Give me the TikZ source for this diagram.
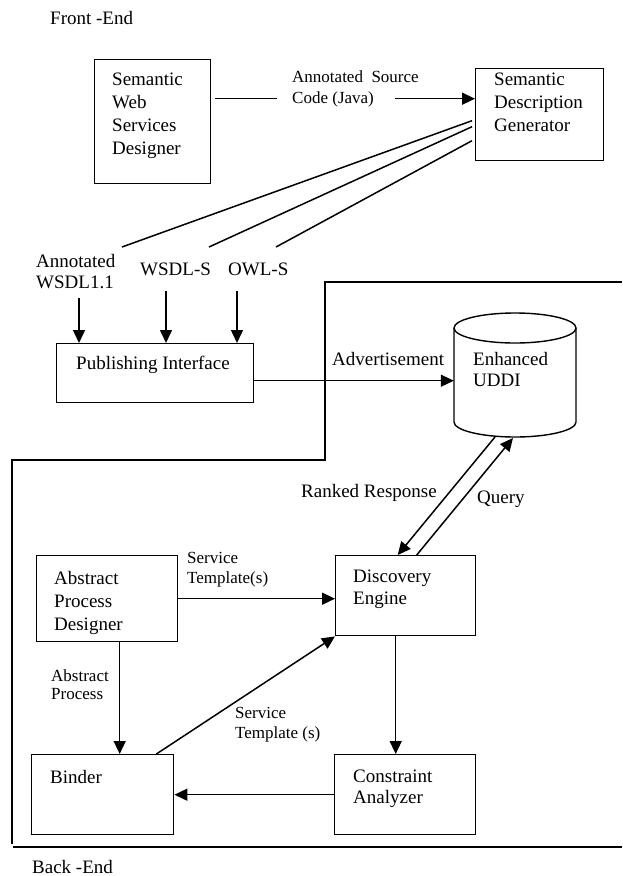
\documentclass[tikz,border=0pt]{standalone}
\usepackage{fontspec}
\setmainfont{Liberation Serif}
\usetikzlibrary{arrows.meta,calc}
\begin{document}
\begin{tikzpicture}[x=1pt,y=-1pt,
  box/.style={draw,line width=1.4pt,anchor=north west,inner sep=0pt},
  txt/.style={anchor=north west,inner sep=0pt,align=left,font=\fontsize{19}{23}\selectfont},
  small/.style={anchor=north west,inner sep=0pt,align=left,font=\fontsize{17}{20}\selectfont},
  conn/.style={line width=1.5pt},
  arr/.style={line width=1.5pt,-{Triangle[length=13pt,width=12pt]}}]
\useasboundingbox (0,0) rectangle (622,876);

% region border
\draw[line width=1.5pt] (622,282) -- (325,282) -- (325,460) -- (12,460) -- (12,844);
\draw[line width=1.5pt] (13,847) -- (622,847);

% boxes
\node[box,minimum width=116pt,minimum height=124pt] (swsd) at (94,59) {};
\node[box,minimum width=128pt,minimum height=92pt] (sdg) at (475,68) {};
\node[box,minimum width=197pt,minimum height=59pt] (pi) at (56,343) {};
\node[box,minimum width=140pt,minimum height=80pt] (de) at (335,555) {};
\node[box,minimum width=141pt,minimum height=86pt] (apd) at (36,555) {};
\node[box,minimum width=142pt,minimum height=80pt] (binder) at (31,754) {};
\node[box,minimum width=141pt,minimum height=80pt] (ca) at (334,754) {};

% cylinder
\node[inner sep=0pt,minimum width=122pt,minimum height=124pt] (uddi) at (515,375) {};
\draw[line width=1.4pt] (454,328) -- (454,422) arc[start angle=180,end angle=0,x radius=61,y radius=15] -- (576,328);
\draw[line width=1.4pt] (515,328) ellipse [x radius=61, y radius=15];

% texts
\node[txt] (front) at (50,11) {Front -End};
\node[txt] (swsdt) at (112,73) {Semantic\\Web\\Services\\Designer};
\node[txt] (sdgt) at (494,73) {Semantic\\Description\\Generator};
\node[small,font=\fontsize{17}{21}\selectfont] (asrc) at (292,71) {Annotated\ \ Source\\Code (Java)};
\node[txt,font=\fontsize{19}{21}\selectfont] (awsdl) at (36,254) {Annotated\\WSDL1.1};
\node[txt] (wsdls) at (140,263) {WSDL-S};
\node[txt] (owls) at (228,263) {OWL-S};
\node[txt] (pit) at (76,356) {Publishing Interface};
\node[txt,font=\fontsize{19}{21}\selectfont] (uddit) at (473,352) {Enhanced\\UDDI};
\node[txt] (adv) at (332,352) {Advertisement};
\node[txt,anchor=north east] (ranked) at (437,484) {Ranked Response};
\node[txt] (query) at (477,491) {Query};
\node[small] (st1) at (187,552) {Service\\Template(s)};
\node[txt,font=\fontsize{19}{22}\selectfont] (det) at (353,570) {Discovery\\Engine};
\node[txt] (apdt) at (54,571) {Abstract\\Process\\Designer};
\node[small,font=\fontsize{17}{18}\selectfont] (apl) at (51,669) {Abstract\\Process};
\node[small] (st2) at (235,707) {Service\\Template (s)};
\node[txt] (bindert) at (50,770) {Binder};
\node[txt,font=\fontsize{19}{21}\selectfont] (cat) at (353,770) {Constraint\\Analyzer};
\node[txt] (back) at (32,860) {Back -End};

% connectors top
\draw[conn] ([xshift=4pt,yshift=23pt]swsd.east) -- ++(62,0);
\draw[arr] ([xshift=-80pt,yshift=16pt]sdg.west) -- ([yshift=16pt]sdg.west);

\coordinate (l1) at (122,247);
\coordinate (l2) at (209,247);
\coordinate (l3) at (276,247);
\draw[conn] ([xshift=-3pt,yshift=-6pt]sdg.west) -- (l1);
\draw[conn] ([xshift=-3pt,yshift=-12pt]sdg.west) -- (l2);
\draw[conn] ([xshift=-3pt,yshift=-26pt]sdg.west) -- (l3);

\coordinate (a1) at (79,298);
\coordinate (a2) at (166,291);
\coordinate (a3) at (237,291);
\draw[arr] (a1) -- (a1 |- pi.north);
\draw[arr] (a2) -- (a2 |- pi.north);
\draw[arr] (a3) -- (a3 |- pi.north);

\coordinate (advs) at ([yshift=-7.5pt]pi.east);
\draw[arr] (advs) -- (advs -| uddi.west);

% uddi <-> discovery
\coordinate (rr) at (495,437);
\coordinate (qq) at (513,438);
\draw[arr] (rr) -- ([xshift=-8pt]de.north);
\draw[arr] ([xshift=11pt]de.north) -- (qq);

% back end
\draw[arr] (apd.east) -- (apd.east -| de.west);
\coordinate (ap) at ([xshift=12.5pt]apd.south);
\draw[arr] (ap) -- (ap |- binder.north);
\draw[arr] ([xshift=-18pt]binder.north east) -- (de.south west);
\coordinate (dc) at ([xshift=-10pt]de.south);
\draw[arr] (dc) -- (dc |- ca.north);
\draw[arr] (ca.west) -- (ca.west -| binder.east);
\end{tikzpicture}
\end{document}
